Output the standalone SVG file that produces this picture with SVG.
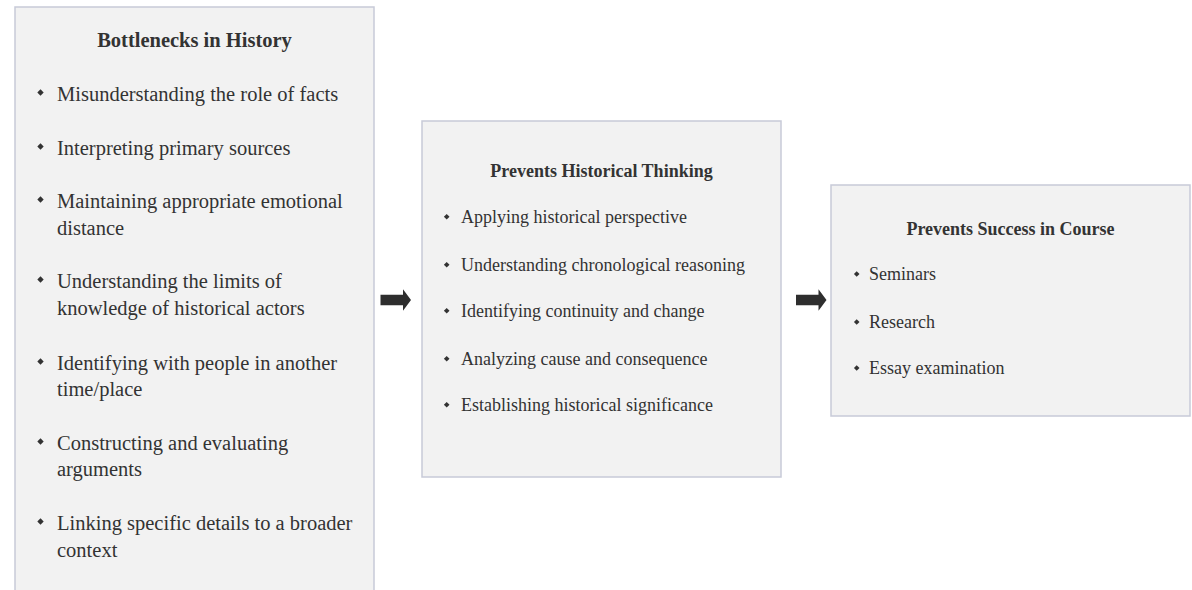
<svg xmlns="http://www.w3.org/2000/svg" width="1192" height="590" viewBox="0 0 1192 590">
  <style>
    .box { fill: #f2f2f2; stroke: #c7cad8; stroke-width: 1.5; }
    .t { font-family: "Liberation Serif", "Times New Roman", serif; fill: #333333; }
    .title { font-weight: bold; text-anchor: middle; }
    .lg { font-size: 20.5px; }
    .sm { font-size: 18px; }
    .bullet { fill: #333333; }
    .arrow { fill: #2e2e2e; }
  </style>
  <defs>
    <path id="dia-lg" d="M0,-3.2 L3.2,0 L0,3.2 L-3.2,0 Z"/>
    <path id="dia-sm" d="M0,-2.8 L2.8,0 L0,2.8 L-2.8,0 Z"/>
  </defs>
  <rect width="1192" height="590" fill="#ffffff"/>

  <g id="bottlenecks">
    <rect class="box" x="15" y="7" width="359" height="600"/>
    <text class="t title lg" x="194.5" y="47">Bottlenecks in History</text>
    <g class="bullet">
      <use href="#dia-lg" x="40.5" y="92.5"/>
      <use href="#dia-lg" x="40.5" y="146.5"/>
      <use href="#dia-lg" x="40.5" y="199.5"/>
      <use href="#dia-lg" x="40.5" y="279.5"/>
      <use href="#dia-lg" x="40.5" y="361.5"/>
      <use href="#dia-lg" x="40.5" y="441.5"/>
      <use href="#dia-lg" x="40.5" y="521.5"/>
    </g>
    <g class="t lg">
      <text x="57" y="101">Misunderstanding the role of facts</text>
      <text x="57" y="155">Interpreting primary sources</text>
      <text x="57" y="208">Maintaining appropriate emotional</text>
      <text x="57" y="235">distance</text>
      <text x="57" y="288">Understanding the limits of</text>
      <text x="57" y="315">knowledge of historical actors</text>
      <text x="57" y="370">Identifying with people in another</text>
      <text x="57" y="396">time/place</text>
      <text x="57" y="450">Constructing and evaluating</text>
      <text x="57" y="476">arguments</text>
      <text x="57" y="530">Linking specific details to a broader</text>
      <text x="57" y="557">context</text>
    </g>
  </g>

  <g id="historical-thinking">
    <rect class="box" x="422" y="121" width="359" height="356"/>
    <text class="t title sm" x="601.5" y="177">Prevents Historical Thinking</text>
    <g class="bullet">
      <use href="#dia-sm" x="446.7" y="216.7"/>
      <use href="#dia-sm" x="446.7" y="264.7"/>
      <use href="#dia-sm" x="446.7" y="310.7"/>
      <use href="#dia-sm" x="446.7" y="358.7"/>
      <use href="#dia-sm" x="446.7" y="404.7"/>
    </g>
    <g class="t sm">
      <text x="461" y="222.7">Applying historical perspective</text>
      <text x="461" y="270.7">Understanding chronological reasoning</text>
      <text x="461" y="316.7">Identifying continuity and change</text>
      <text x="461" y="364.7">Analyzing cause and consequence</text>
      <text x="461" y="410.7">Establishing historical significance</text>
    </g>
  </g>

  <g id="course-success">
    <rect class="box" x="831" y="185" width="359" height="231"/>
    <text class="t title sm" x="1010.5" y="235">Prevents Success in Course</text>
    <g class="bullet">
      <use href="#dia-sm" x="856.7" y="274"/>
      <use href="#dia-sm" x="856.7" y="322"/>
      <use href="#dia-sm" x="856.7" y="368"/>
    </g>
    <g class="t sm">
      <text x="869" y="280">Seminars</text>
      <text x="869" y="328">Research</text>
      <text x="869" y="374">Essay examination</text>
    </g>
  </g>

  <g id="connectors">
    <path class="arrow" d="M380.5,294.8 H403 V289.3 L411,300 L403,310.7 V305.2 H380.5 Z"/>
    <path class="arrow" d="M796,294.8 H818.5 V289.3 L826.5,300 L818.5,310.7 V305.2 H796 Z"/>
  </g>
</svg>
